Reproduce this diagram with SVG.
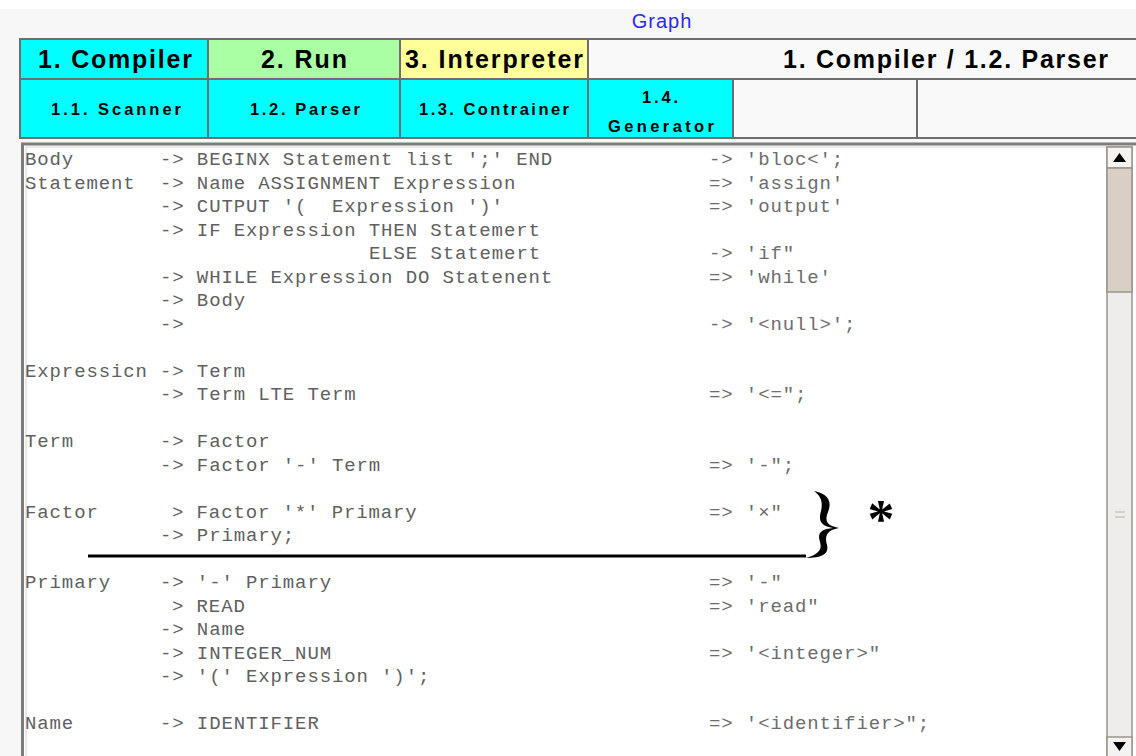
<svg xmlns="http://www.w3.org/2000/svg" width="1136" height="756" viewBox="0 0 1136 756">
  <style>
    .tab { stroke: #6e6e6e; stroke-width: 2; }
    .tabTitle { font-family: "Liberation Sans", Arial, sans-serif; font-weight: bold; font-size: 25px; fill: #000; text-anchor: middle; }
    .subTitle { font-family: "Liberation Sans", Arial, sans-serif; font-weight: bold; font-size: 16.5px; fill: #000; text-anchor: middle; }
    .code { font-family: "Liberation Mono", "DejaVu Sans Mono", monospace; font-size: 19px; letter-spacing: 0.88px; fill: #606060; }
    .res { font-family: "Liberation Mono", "DejaVu Sans Mono", monospace; font-size: 19px; letter-spacing: 0.88px; fill: #6c6c6c; }
    .sb { stroke: #9c948a; stroke-width: 1.5; }
  </style>

  <!-- window background -->
  <rect x="0" y="0" width="1136" height="756" fill="#f7f7f7"/>
  <rect x="0" y="0" width="1136" height="9" fill="#ffffff"/>

  <!-- window title -->
  <text x="662" y="28" font-family="Liberation Sans, Arial, sans-serif" font-size="20" fill="#2a2aff" text-anchor="middle" letter-spacing="1">Graph</text>

  <!-- top tab row -->
  <g id="tab-compiler">
    <rect class="tab" x="20" y="39" width="188" height="40" fill="#00ffff"/>
    <text class="tabTitle" x="115" y="68" textLength="154" lengthAdjust="spacing">1. Compiler</text>
  </g>
  <g id="tab-run">
    <rect class="tab" x="208" y="39" width="192" height="40" fill="#aaffa4"/>
    <text class="tabTitle" x="304" y="68" textLength="86" lengthAdjust="spacing">2. Run</text>
  </g>
  <g id="tab-interpreter">
    <rect class="tab" x="400" y="39" width="188" height="40" fill="#ffff99"/>
    <text class="tabTitle" x="494" y="68" textLength="178" lengthAdjust="spacing">3. Interpreter</text>
  </g>
  <g id="tab-path">
    <rect x="589" y="40" width="547" height="38" fill="#f9f9f9"/>
    <path class="tab" d="M588 39 H1136 M588 79 H1110" fill="none"/>
    <text class="tabTitle" x="1108" y="68" style="text-anchor:end" textLength="325" lengthAdjust="spacing">1. Compiler / 1.2. Parser</text>
  </g>

  <!-- second tab row -->
  <g id="tab-scanner">
    <rect class="tab" x="20" y="79" width="188" height="59" fill="#00ffff"/>
    <text class="subTitle" x="116" y="115" textLength="130" lengthAdjust="spacing">1.1. Scanner</text>
  </g>
  <g id="tab-parser">
    <rect class="tab" x="208" y="79" width="192" height="59" fill="#00ffff"/>
    <text class="subTitle" x="305" y="115" textLength="110" lengthAdjust="spacing">1.2. Parser</text>
  </g>
  <g id="tab-contrainer">
    <rect class="tab" x="400" y="79" width="188" height="59" fill="#00ffff"/>
    <text class="subTitle" x="494" y="115" textLength="150" lengthAdjust="spacing">1.3. Contrainer</text>
  </g>
  <g id="tab-generator">
    <rect class="tab" x="588" y="79" width="145" height="59" fill="#00ffff"/>
    <text class="subTitle" x="660" y="103" textLength="36" lengthAdjust="spacing">1.4.</text>
    <text class="subTitle" x="661" y="132" textLength="106" lengthAdjust="spacing">Generator</text>
  </g>
  <g id="tab-empty-1">
    <rect class="tab" x="733" y="79" width="184" height="59" fill="#f9f9f9"/>
  </g>
  <g id="tab-empty-2">
    <rect class="tab" x="917" y="79" width="221" height="59" fill="#f9f9f9"/>
  </g>

  <!-- grammar text pane -->
  <g id="grammar-pane">
    <rect x="22" y="143" width="1114" height="620" fill="#ffffff"/>
    <path d="M22.5 760 V144 H1136" fill="none" stroke="#7d7d7d" stroke-width="3"/>
    <path d="M26 760 V147 H1106" fill="none" stroke="#d6d6d6" stroke-width="1"/>

    <!-- left-hand sides -->
    <g class="code">
      <text x="25" y="165">Body</text>
      <text x="25" y="188.5">Statement</text>
      <text x="25" y="376.5">Expressicn</text>
      <text x="25" y="447">Term</text>
      <text x="25" y="517.5">Factor</text>
      <text x="25" y="588">Primary</text>
      <text x="25" y="729">Name</text>
    </g>

    <!-- productions -->
    <g class="code">
      <text x="160" y="165">-&gt; BEGINX Statement list ';' END</text>
      <text x="160" y="188.5">-&gt; Name ASSIGNMENT Expression</text>
      <text x="160" y="212">-&gt; CUTPUT '(&#160; Expression ')'</text>
      <text x="160" y="235.5">-&gt; IF Expression THEN Statemert</text>
      <text x="369" y="259">ELSE Statemert</text>
      <text x="160" y="282.5">-&gt; WHILE Expression DO Statenent</text>
      <text x="160" y="306">-&gt; Body</text>
      <text x="160" y="329.5">-&gt;</text>
      <text x="160" y="376.5">-&gt; Term</text>
      <text x="160" y="400">-&gt; Term LTE Term</text>
      <text x="160" y="447">-&gt; Factor</text>
      <text x="160" y="470.5">-&gt; Factor '-' Term</text>
      <text x="172" y="517.5">&gt; Factor '*' Primary</text>
      <text x="160" y="541">-&gt; Primary;</text>
      <text x="160" y="588">-&gt; '-' Primary</text>
      <text x="172" y="611.5">&gt; READ</text>
      <text x="160" y="635">-&gt; Name</text>
      <text x="160" y="658.5">-&gt; INTEGER_NUM</text>
      <text x="160" y="682">-&gt; '(' Expression ')';</text>
      <text x="160" y="729">-&gt; IDENTIFIER</text>
    </g>

    <!-- tree-building results -->
    <g class="res">
      <text x="709" y="165">-&gt; 'bloc&lt;';</text>
      <text x="709" y="188.5">=&gt; 'assign'</text>
      <text x="709" y="212">=&gt; 'output'</text>
      <text x="709" y="259">-&gt; 'if"</text>
      <text x="709" y="282.5">=&gt; 'while'</text>
      <text x="709" y="329.5">-&gt; '&lt;null&gt;';</text>
      <text x="709" y="400">=&gt; '&lt;=";</text>
      <text x="709" y="470.5">=&gt; '-";</text>
      <text x="709" y="517.5">=&gt; '×"</text>
      <text x="709" y="588">=&gt; '-"</text>
      <text x="709" y="611.5">=&gt; 'read"</text>
      <text x="709" y="658.5">=&gt; '&lt;integer&gt;"</text>
      <text x="709" y="729">=&gt; '&lt;identifier&gt;";</text>
    </g>
  </g>

  <!-- annotation: underline, brace and asterisk -->
  <g id="annotation">
    <line x1="88" y1="556" x2="806" y2="556" stroke="#000" stroke-width="3"/>
    <path d="M814 491 C829 494 832 502 828 512 C824 522 828 526 839 528 C828 530 824 535 827 545 C829 553 824 558 806 558
             C820 554 822 549 820 542 C817 533 821 529 833 528 C821 526 818 521 821 511 C823 502 821 496 814 491 Z"
          fill="#000"/>
    <text x="881" y="537" font-family="Liberation Serif, 'Times New Roman', serif" font-weight="bold" font-size="54" fill="#000" text-anchor="middle">*</text>
  </g>

  <!-- vertical scrollbar -->
  <g id="scrollbar">
    <rect x="1107" y="147" width="25" height="612" fill="#efedeb" class="sb"/>
    <rect x="1107" y="147" width="25" height="21" fill="#f4f3f1" class="sb"/>
    <path d="M1113 162 L1119.5 153 L1126 162 Z" fill="#000"/>
    <rect x="1107" y="168" width="25" height="124" fill="#d8d0c5" class="sb"/>
    <path d="M1115 512 H1125 M1115 517 H1125" stroke="#b5aea4" stroke-width="1.2"/>
    <rect x="1107" y="737" width="25" height="22" fill="#f4f3f1" class="sb"/>
    <path d="M1113 742 L1126 742 L1119.5 751 Z" fill="#000"/>
  </g>
</svg>
